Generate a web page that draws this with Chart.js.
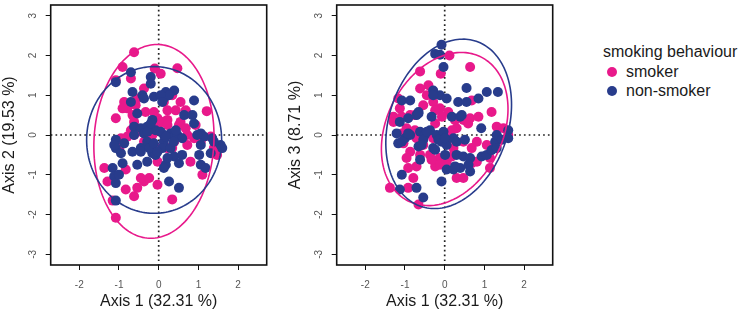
<!DOCTYPE html>
<html><head><meta charset="utf-8">
<script src="https://cdn.jsdelivr.net/npm/chart.js@4/dist/chart.umd.min.js"></script>
<style>
html,body{margin:0;padding:0;background:#fff}
body{width:740px;height:315px;overflow:hidden;position:relative;font-family:"Liberation Sans",Arial,sans-serif}
.pn{position:absolute;top:0}
.lg{position:absolute;font-size:16px;line-height:18px;color:#1a1a1a;white-space:nowrap}
.mk{position:absolute;width:10px;height:10px;border-radius:50%}
</style>
</head><body>
<div class="pn" style="left:0px"><canvas id="c1" width="290" height="315"></canvas></div>
<div class="pn" style="left:286px"><canvas id="c2" width="290" height="315"></canvas></div>
<div class="lg" style="left:603px;top:43px">smoking behaviour</div>
<div class="mk" style="left:607px;top:67px;background:#E8198B"></div>
<div class="lg" style="left:626px;top:63px">smoker</div>
<div class="mk" style="left:607px;top:86px;background:#283C8C"></div>
<div class="lg" style="left:626px;top:82px">non-smoker</div>
<script>
// ---- data ----
const groups = ['smoker', 'non-smoker'];
const xTicks = [-2, -1, 0, 1, 2];
const yTicks = [-3, -2, -1, 0, 1, 2, 3];
const axisTitles = ['Axis 1 (32.31 %)', 'Axis 2 (19.53 %)', 'Axis 3 (8.71 %)'];

// Panel 1: Axis 1 vs Axis 2
const p1SmokerX = [-0.62,-0.91,-1.08,-0.10,0.47,0.05,-0.70,-0.37,-0.87,-0.54,-0.79,-0.33,-1.08,-0.62,0.22,0.43,0.68,0.55,0.34,1.21,0.13,0.22,-0.03,0.51,-0.20,-0.45,-0.70,0.72,0.89,-0.95,-0.99,-0.37,-0.03,0.39,0.72,1.06,1.39,1.47,-0.03,-0.83,-1.37,-1.29,-0.83,-0.54,-0.37,-0.24,-0.03,-0.62,-1.16,-1.08,0.34,1.10,0.80,0.93,-0.12,-0.66,0.55,0.22,
  -0.91,-0.58,0.72,-0.03,0.09,0.22,0.68,-0.62,-0.16,-0.08,1.31,-0.79,0.34,-0.45];
const p1SmokerY = [2.08,1.71,1.38,1.67,1.68,1.54,1.42,1.17,0.83,0.92,0.67,0.58,0.42,0.33,0.62,0.62,0.62,0.83,1.00,0.60,0.83,0.38,0.25,0.25,0.17,0.08,0.12,0.00,-0.08,-0.08,-0.33,-0.17,-0.33,-0.17,-0.25,-0.17,-0.33,-0.50,-0.67,-0.87,-0.83,-1.17,-1.37,-1.33,-1.17,-1.08,-1.25,-1.54,-1.65,-2.08,-1.62,-1.00,-0.67,0.25,0.58,0.50,0.33,-0.33,
  0.67,0.75,0.54,0.42,0.33,0.25,0.17,0.00,0.00,0.17,-0.04,-0.04,-0.33,-1.08];
const p1NonX = [-0.70,-1.08,-0.20,-0.20,-0.66,-0.41,-0.70,-0.12,0.13,0.18,0.39,0.26,0.89,-0.54,0.64,0.85,0.89,-0.16,-0.62,-0.45,-0.29,-0.62,-0.37,-0.08,0.13,0.30,0.39,0.47,0.59,1.06,1.14,1.35,1.56,1.60,-1.08,-1.08,-0.87,-0.95,-0.66,-0.45,-0.29,-0.16,-0.29,-0.54,-0.91,0.13,0.09,0.30,0.39,0.59,0.18,1.06,1.02,1.06,1.31,-1.16,-1.12,-1.08,-1.08,0.26,0.51,-0.08,0.43,
  -0.37,0.05,0.09,-0.28,-0.20,0.05,0.18,0.38,0.97,1.39,-1.12,-0.45,-0.24,-0.12,-0.03,0.22,0.51,0.13,-1.00,1.18];
const p1NonY = [1.58,1.33,1.46,1.29,1.08,1.00,0.83,0.96,0.92,1.08,1.12,1.00,0.87,0.54,0.50,0.50,0.29,0.38,0.21,0.17,0.21,0.00,0.04,0.12,0.00,0.04,-0.04,0.00,-0.08,0.04,-0.04,-0.08,-0.25,-0.33,-0.12,-0.33,-0.21,-0.46,-0.42,-0.33,-0.17,-0.46,-0.67,-0.75,-0.71,-0.17,-0.33,-0.33,-0.54,-0.50,-0.75,-0.25,-0.50,-0.75,-0.46,-0.83,-1.04,-1.21,-1.65,-1.17,-1.33,-0.50,0.12,
  0.92,1.00,0.83,0.08,0.29,0.08,-0.04,-0.17,0.00,-0.17,-0.25,-0.42,-0.33,-0.21,-0.42,-0.58,-0.71,-0.83,-1.00,-0.83];

// Panel 2: Axis 1 vs Axis 3
const p2SmokerX = [0.12,0.64,-0.10,-0.62,-0.41,-0.62,-0.45,-1.17,-0.54,-0.29,-0.12,0.09,-0.07,-0.87,-1.29,-1.13,0.68,0.47,0.64,0.85,1.18,1.31,1.48,1.60,0.47,0.68,0.81,1.06,1.14,0.30,0.13,-0.29,-0.54,-0.71,-0.87,-0.96,-0.62,-0.37,-0.13,0.05,-0.24,-0.71,-0.92,-0.79,-0.12,0.30,0.47,-1.38,-0.92,-0.66,-1.08,-1.04,0.81,1.14,0.22,-0.96,-1.29,
  -1.08,-0.75,-0.24,0.26,0.59,-0.75,-0.24,0.18,-0.33,0.01,0.18,0.68];
const p2SmokerY = [2.00,1.71,1.54,1.60,1.25,1.17,1.00,0.92,0.75,0.83,0.67,0.58,0.46,0.50,0.46,0.67,0.87,0.38,0.42,0.46,0.58,0.21,0.17,0.00,-0.17,-0.33,-0.17,-0.25,-0.58,0.17,-0.08,-0.08,-0.25,-0.08,-0.42,-0.58,-0.50,-0.50,-0.58,-0.67,-0.79,-0.79,-0.83,-1.08,-0.75,-1.08,-1.08,-1.33,-1.33,-1.75,0.04,-0.21,-0.67,-0.83,-0.33,0.17,0.33,
  0.46,0.50,0.62,0.37,0.29,0.12,0.29,0.12,-0.62,-0.54,-0.54,-0.71];
const p2NonX = [-0.08,-0.24,-0.12,-0.03,-0.29,-0.12,0.05,-0.29,0.55,0.34,0.55,0.85,1.06,1.34,-1.08,-0.87,-0.71,-0.66,-1.13,-0.92,0.18,0.39,0.43,0.92,-1.21,-1.17,-1.00,-0.62,-0.50,-0.37,-0.54,-0.66,-0.29,-0.20,-0.03,0.05,0.22,0.30,0.01,0.30,0.47,0.64,0.05,0.22,0.39,0.60,0.64,0.93,1.06,1.18,1.27,1.31,1.44,1.60,1.60,1.31,-1.08,-1.13,-0.71,-0.54,-0.08,-0.62,-0.87,-0.08,
  -0.66,-0.33,-0.92,-0.45,-0.16,0.01,0.51,0.26,-0.24,-0.58,-1.08];
const p2NonY = [2.27,2.04,2.02,1.71,1.12,1.00,0.92,1.00,1.18,0.83,0.83,0.92,1.08,1.08,0.87,0.87,0.50,0.58,0.33,0.42,0.46,0.46,0.50,0.17,0.04,-0.21,-0.08,0.08,0.00,0.12,-0.12,-0.29,-0.33,0.00,0.08,-0.25,-0.08,-0.17,-0.50,-0.50,-0.54,-0.58,-0.87,-0.87,-0.83,-0.75,-0.92,-0.54,-0.50,-0.38,-0.17,0.00,-0.12,0.12,-0.08,-0.33,-1.00,-1.37,-1.33,-1.57,-1.17,-0.62,0.00,-0.17,
  0.54,0.46,0.04,0.08,-0.12,-0.08,-0.12,-0.79,-0.37,-0.25,-0.17];

// ellipse summaries: [centerX, centerY, semiAxisA, semiAxisB, angleDeg]
const p1SmokerEllipse = [-0.12, -0.16, 2.44, 1.51, 87];
const p1NonEllipse    = [-0.115, -0.125, 1.845, 1.70, 90];
const p2SmokerEllipse = [0.0, 0.15, 2.03, 1.46, 63];
const p2NonEllipse    = [0.1, 0.28, 2.19, 1.50, 71.5];

// ---- rendering ----
const PINK = '#E8198B', BLUE = '#283C8C';
const FAM = '"Liberation Sans", Arial, sans-serif';
Chart.defaults.font.family = FAM;

function toPts(xs, ys){ return xs.map((v,i)=>({x:v, y:ys[i]})); }

function makeDecor(ellipses){
  return {
    id:'decor',
    beforeDatasetsDraw(chart){
      const {ctx, chartArea:a, scales:{x,y}} = chart;
      const px = x.getPixelForValue(0), py = y.getPixelForValue(0);
      ctx.save();
      ctx.strokeStyle = '#222'; ctx.lineWidth = 1.7; ctx.setLineDash([1.7,3.1]);
      ctx.beginPath(); ctx.moveTo(px, a.top); ctx.lineTo(px, a.bottom); ctx.stroke();
      ctx.beginPath(); ctx.moveTo(a.left, py); ctx.lineTo(a.right, py); ctx.stroke();
      ctx.restore();
    },
    afterDatasetsDraw(chart){
      const {ctx, chartArea:a, scales:{x,y}} = chart;
      ctx.save();
      ctx.beginPath(); ctx.rect(a.left, a.top, a.right-a.left, a.bottom-a.top); ctx.clip();
      ctx.lineWidth = 1.6;
      ellipses.forEach(e=>{
        const [cx,cy,ra,rb,deg] = e.p; const ph = deg*Math.PI/180;
        ctx.strokeStyle = e.color; ctx.beginPath();
        for(let k=0;k<=180;k++){
          const t = k/180*2*Math.PI;
          const dx = ra*Math.cos(t), dy = rb*Math.sin(t);
          const X = cx + dx*Math.cos(ph) - dy*Math.sin(ph);
          const Y = cy + dx*Math.sin(ph) + dy*Math.cos(ph);
          const u = x.getPixelForValue(X), v = y.getPixelForValue(Y);
          if(k===0) ctx.moveTo(u,v); else ctx.lineTo(u,v);
        }
        ctx.closePath(); ctx.stroke();
      });
      ctx.restore();
    },
    afterDraw(chart){
      const {ctx, chartArea:a} = chart;
      ctx.save(); ctx.strokeStyle = '#111'; ctx.lineWidth = 1.6;
      ctx.strokeRect(a.left, a.top, a.right-a.left, a.bottom-a.top);
      ctx.restore();
    }
  };
}

function makeChart(id, sx, sy, nx, ny, ySmEll, yNonEll, yTitle){
  return new Chart(document.getElementById(id), {
    type:'scatter',
    data:{ datasets:[
      {label:groups[1], data:toPts(nx,ny), backgroundColor:BLUE, borderWidth:0, pointRadius:5, pointHoverRadius:5},
      {label:groups[0], data:toPts(sx,sy), backgroundColor:PINK, borderWidth:0, pointRadius:5, pointHoverRadius:5}
    ]},
    options:{
      responsive:false, animation:false, devicePixelRatio:1,
      events:[],
      layout:{padding:{left:0, right:23.3, top:3, bottom:0}},
      plugins:{legend:{display:false}, tooltip:{enabled:false}},
      scales:{
        x:{type:'linear', position:'bottom', min:-2.72, max:2.72,
           afterBuildTicks:s=>{ s.ticks = xTicks.map(v=>({value:v})); },
           afterFit:s=>{ s.height = 50; s.paddingLeft = 0; s.paddingRight = 0; },
           grid:{drawOnChartArea:false, drawTicks:true, tickLength:5, color:'#111', lineWidth:1},
           border:{display:false},
           ticks:{font:{size:10}, color:'#555', padding:9, minRotation:0, maxRotation:0},
           title:{display:true, text:axisTitles[0], font:{size:16}, color:'#1a1a1a', padding:{top:0,bottom:4}}
        },
        y:{type:'linear', position:'left', min:-3.27, max:3.27,
           afterBuildTicks:s=>{ s.ticks = yTicks.map(v=>({value:v})); },
           afterFit:s=>{ s.width = 50.7; s.paddingTop = 0; s.paddingBottom = 0; },
           grid:{drawOnChartArea:false, drawTicks:true, tickLength:5, color:'#111', lineWidth:1},
           border:{display:false},
           ticks:{font:{size:10}, color:'#555', padding:8, minRotation:90, maxRotation:90, crossAlign:'center', autoSkip:false},
           title:{display:true, text:yTitle, font:{size:16}, color:'#1a1a1a', padding:{top:0,bottom:0}}
        }
      }
    },
    plugins:[makeDecor([{p:ySmEll,color:PINK},{p:yNonEll,color:BLUE}])]
  });
}

makeChart('c1', p1SmokerX, p1SmokerY, p1NonX, p1NonY, p1SmokerEllipse, p1NonEllipse, axisTitles[1]);
makeChart('c2', p2SmokerX, p2SmokerY, p2NonX, p2NonY, p2SmokerEllipse, p2NonEllipse, axisTitles[2]);
</script>
</body></html>
